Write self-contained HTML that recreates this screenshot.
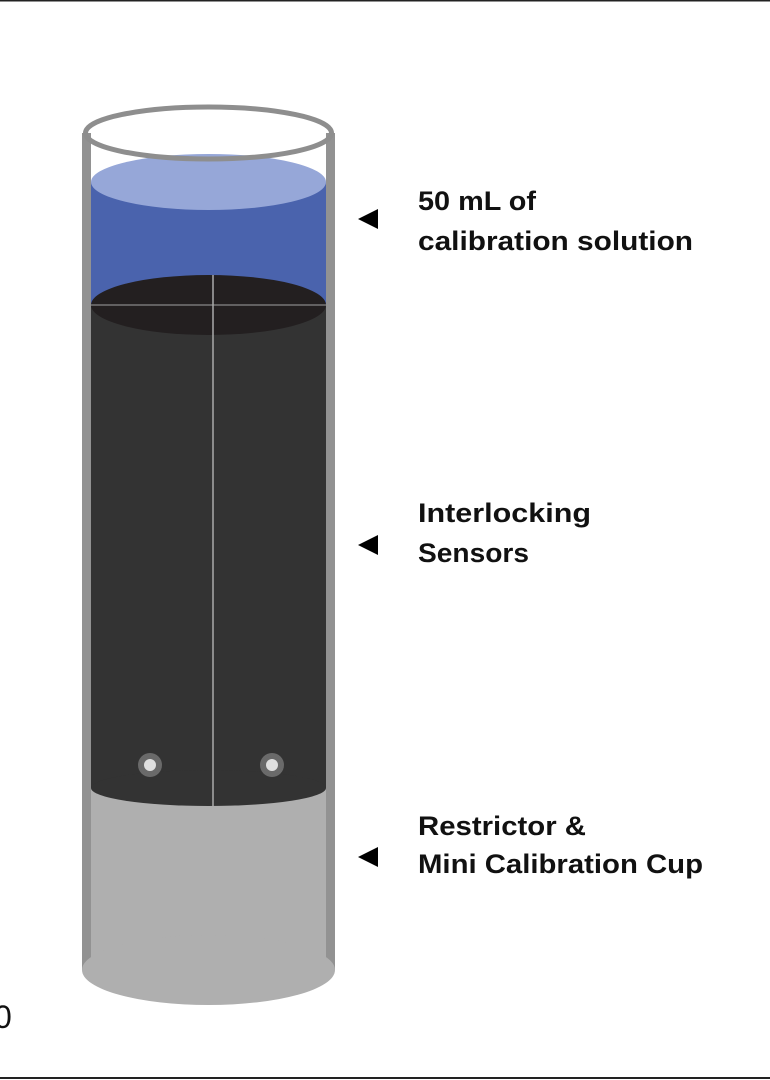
<!DOCTYPE html>
<html><head><style>html,body{margin:0;padding:0;background:#fff;}svg{display:block}</style></head>
<body>
<svg width="770" height="1080" viewBox="0 0 770 1080" xmlns="http://www.w3.org/2000/svg">
<line x1="0" y1="0.5" x2="770" y2="0.5" stroke="#222" stroke-width="2"/>
<line x1="0" y1="1078" x2="770" y2="1078" stroke="#222" stroke-width="2"/>
<!-- tube walls -->
<rect x="82" y="133" width="253" height="837" fill="#929292"/>
<rect x="91" y="133" width="235" height="837" fill="#fff"/>
<!-- gray bottom -->
<rect x="91" y="780" width="235" height="190" fill="#afafaf"/>
<ellipse cx="208.5" cy="970" rx="126.5" ry="35" fill="#afafaf"/>
<!-- dark body -->
<rect x="91" y="305" width="235" height="483" fill="#333"/>
<ellipse cx="208.5" cy="788" rx="117.5" ry="18" fill="#333"/>
<!-- blue -->
<rect x="91" y="182" width="235" height="123" fill="#4a63ad"/>
<ellipse cx="208.5" cy="182" rx="117.5" ry="28" fill="#96a7d8"/>
<ellipse cx="208.5" cy="305" rx="117.5" ry="30" fill="#231f20"/>
<line x1="91" y1="305" x2="326" y2="305" stroke="#777" stroke-width="1.5"/>
<line x1="213" y1="275" x2="213" y2="806" stroke="#aaa" stroke-width="1.5"/>
<!-- dots -->
<circle cx="150" cy="765" r="12" fill="#6a6a6a"/><circle cx="150" cy="765" r="6" fill="#e0e0e0"/>
<circle cx="272" cy="765" r="12" fill="#6a6a6a"/><circle cx="272" cy="765" r="6" fill="#e0e0e0"/>
<!-- rim -->
<ellipse cx="208.5" cy="133" rx="123" ry="26" fill="none" stroke="#8e8e8e" stroke-width="5"/>
<!-- arrows -->
<polygon points="358,219 378,209 378,229" fill="#000"/>
<polygon points="358,545 378,535 378,555" fill="#000"/>
<polygon points="358,857 378,847 378,867" fill="#000"/>
<g font-family="Liberation Sans, sans-serif" font-weight="bold" font-size="27" fill="#111">
<text x="418" y="210" textLength="118" lengthAdjust="spacingAndGlyphs">50 mL of</text>
<text x="418" y="250" textLength="275" lengthAdjust="spacingAndGlyphs">calibration solution</text>
<text x="418" y="522" textLength="173" lengthAdjust="spacingAndGlyphs">Interlocking</text>
<text x="418" y="562" textLength="111" lengthAdjust="spacingAndGlyphs">Sensors</text>
<text x="418" y="835" textLength="168" lengthAdjust="spacingAndGlyphs">Restrictor &amp;</text>
<text x="418" y="873" textLength="285" lengthAdjust="spacingAndGlyphs">Mini Calibration Cup</text>
</g>
<text x="-6" y="1028" font-family="Liberation Sans, sans-serif" font-size="32" fill="#111">0</text>
</svg>
</body></html>
